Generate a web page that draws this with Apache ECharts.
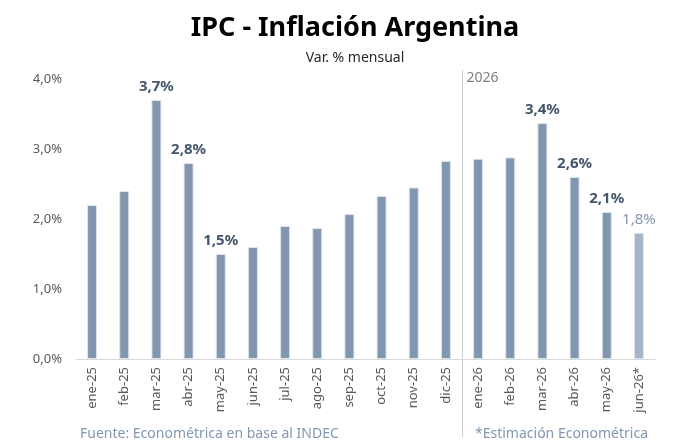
<!DOCTYPE html>
<html>
<head>
<meta charset="utf-8">
<script src="https://cdn.jsdelivr.net/npm/echarts@6/dist/echarts.min.js"></script>
<style>
  html, body { margin: 0; padding: 0; background: #fff; }
  #main { width: 680px; height: 448px; }
</style>
</head>
<body>
<div id="main"></div>
<script>
// months and monthly CPI change (%)
var months = ['ene-25', 'feb-25', 'mar-25', 'abr-25', 'may-25', 'jun-25', 'jul-25', 'ago-25', 'sep-25', 'oct-25', 'nov-25', 'dic-25',
  'ene-26', 'feb-26', 'mar-26', 'abr-26', 'may-26', 'jun-26*'];
var values = [2.2, 2.4, 3.7, 2.8, 1.5, 1.6, 1.9, 1.87, 2.07, 2.33, 2.45, 2.83,
  2.86, 2.88, 3.37, 2.6, 2.1, 1.8];
// which bars get a value label
var labelled = ['mar-25', 'abr-25', 'may-25', 'mar-26', 'abr-26', 'may-26', 'jun-26*'];
var estimated = ['jun-26*'];

var font = 'Noto Sans';
var barColor = '#8396b0';
var estColor = '#a6b4c8';

var main = document.getElementById('main');
var myChart = echarts.init(main);

var barData = months.map(function (m, i) {
  var est = estimated.indexOf(m) >= 0;
  var item = {
    value: values[i],
    itemStyle: { color: est ? estColor : barColor }
  };
  if (labelled.indexOf(m) >= 0) {
    item.label = {
      show: true,
      position: 'top',
      distance: 6,
      fontFamily: font,
      fontSize: 15,
      fontWeight: est ? 'normal' : 'bold',
      color: est ? '#8497b0' : '#44546a',
      formatter: function (p) { return p.value.toFixed(1).replace('.', ',') + '%'; }
    };
  }
  return item;
});

var option = {
  backgroundColor: '#fff',
  animation: false,
  title: {
    text: 'IPC - Inflación Argentina',
    subtext: 'Var. % mensual',
    left: 350,
    textAlign: 'center',
    top: 10,
    itemGap: 9,
    textStyle: { fontFamily: font, fontSize: 27, fontWeight: 'bold', color: '#000' },
    subtextStyle: { fontFamily: font, fontSize: 14, color: '#262626' }
  },
  grid: { left: 76, right: 25, top: 79, bottom: 89 },
  xAxis: {
    type: 'category',
    data: months,
    axisLine: { lineStyle: { color: '#d9d9d9' } },
    axisTick: { show: false },
    axisLabel: {
      rotate: 90,
      interval: 0,
      margin: 8,
      fontFamily: font,
      fontSize: 13,
      color: '#595959'
    }
  },
  yAxis: {
    type: 'value',
    min: 0,
    max: 4,
    interval: 1,
    splitLine: { show: false },
    axisLine: { show: false },
    axisTick: { show: false },
    axisLabel: {
      margin: 14,
      fontFamily: font,
      fontSize: 13,
      color: '#595959',
      formatter: function (v) { return v.toFixed(1).replace('.', ',') + '%'; }
    }
  },
  series: [{
    type: 'bar',
    barWidth: 10,
    data: barData,
    itemStyle: { borderColor: '#dde4ee', borderWidth: 1 }
  }]
};

myChart.setOption(option);

// year separator between dic-25 and ene-26, plus footer notes
var x0 = myChart.convertToPixel({ xAxisIndex: 0 }, 'dic-25');
var x1 = myChart.convertToPixel({ xAxisIndex: 0 }, 'ene-26');
var xs = Math.round((x0 + x1) / 2) + 0.5;
myChart.setOption({
  graphic: [{
    id: 'sep',
    type: 'line',
    shape: { x1: xs, y1: 70, x2: xs, y2: 437 },
    style: { stroke: '#d0d0d0', lineWidth: 1 }
  }, {
    id: 'year',
    type: 'text',
    x: xs + 4,
    y: 71,
    style: { text: '2026', fontFamily: font, fontSize: 14, fill: '#7f7f7f' }
  }, {
    id: 'src',
    type: 'text',
    left: 80,
    bottom: 7,
    style: { text: 'Fuente: Econométrica en base al INDEC', fontFamily: font, fontSize: 14, fill: '#8497b0' }
  }, {
    id: 'est',
    type: 'text',
    right: 32,
    bottom: 7,
    style: { text: '*Estimación Econométrica', fontFamily: font, fontSize: 14, fill: '#8497b0' }
  }]
});
</script>
</body>
</html>
